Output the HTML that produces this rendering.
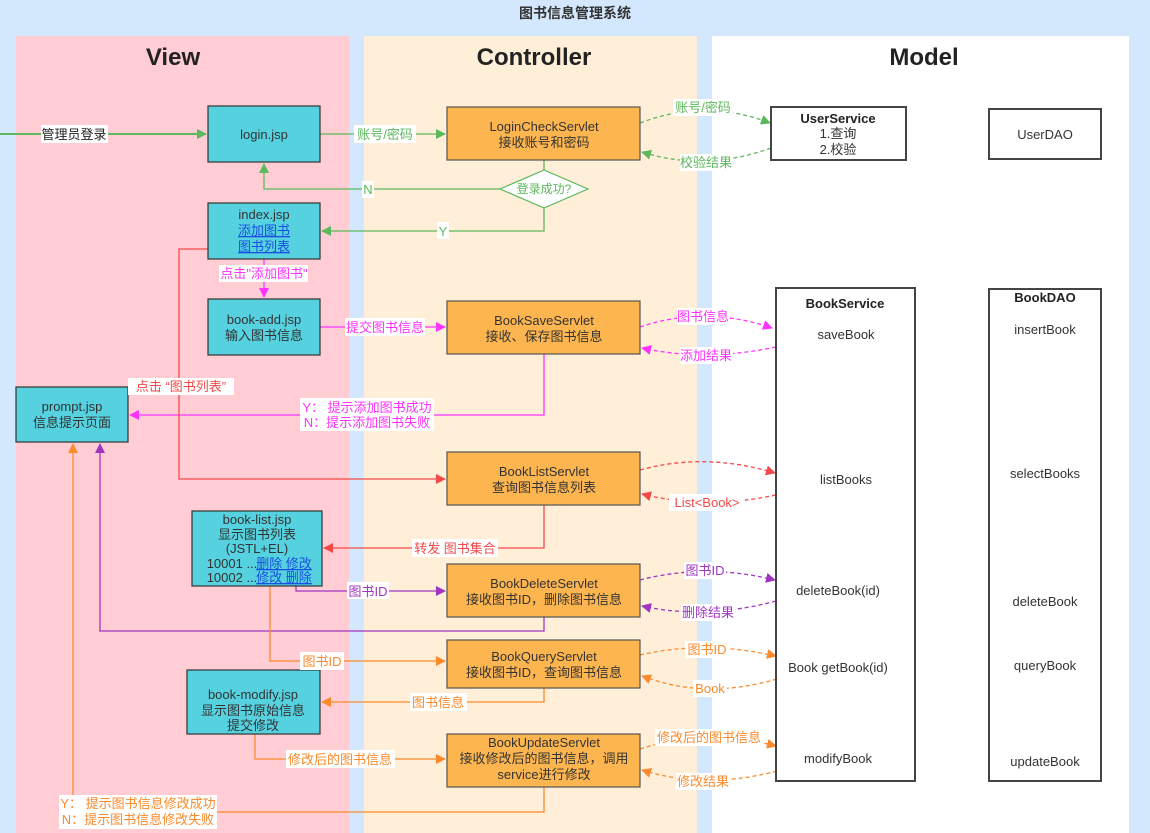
<!DOCTYPE html>
<html><head><meta charset="utf-8"><style>
html,body{margin:0;padding:0;background:#d3e8fc;}
svg{display:block;}
text{font-family:"Liberation Sans","Noto Sans CJK SC",sans-serif;font-size:13px;}
</style></head><body>
<svg width="1150" height="833" viewBox="0 0 1150 833" xmlns="http://www.w3.org/2000/svg">
<defs>
<marker id="g" markerWidth="10" markerHeight="10" refX="9" refY="5" orient="auto" markerUnits="userSpaceOnUse"><path d="M0,0 L10,5 L0,10 z" fill="#5cb85c"/></marker>
<marker id="m" markerWidth="10" markerHeight="10" refX="9" refY="5" orient="auto" markerUnits="userSpaceOnUse"><path d="M0,0 L10,5 L0,10 z" fill="#ff33ff"/></marker>
<marker id="r" markerWidth="10" markerHeight="10" refX="9" refY="5" orient="auto" markerUnits="userSpaceOnUse"><path d="M0,0 L10,5 L0,10 z" fill="#f24a4a"/></marker>
<marker id="p" markerWidth="10" markerHeight="10" refX="9" refY="5" orient="auto" markerUnits="userSpaceOnUse"><path d="M0,0 L10,5 L0,10 z" fill="#a035c0"/></marker>
<marker id="o" markerWidth="10" markerHeight="10" refX="9" refY="5" orient="auto" markerUnits="userSpaceOnUse"><path d="M0,0 L10,5 L0,10 z" fill="#fb8a2c"/></marker>
</defs>
<rect width="1150" height="833" fill="#d3e8fc"/>
<text x="575" y="18" text-anchor="middle" font-weight="bold" style="font-size:14px" fill="#333">图书信息管理系统</text>
<rect x="16" y="36" width="333" height="797" fill="#ffcdd3"/>
<rect x="364" y="36" width="333" height="797" fill="#ffeed8"/>
<rect x="712" y="36" width="417" height="797" fill="#ffffff"/>
<text x="173" y="65" text-anchor="middle" font-weight="bold" style="font-size:24px" fill="#222">View</text>
<text x="534" y="65" text-anchor="middle" font-weight="bold" style="font-size:24px" fill="#222">Controller</text>
<text x="924" y="65" text-anchor="middle" font-weight="bold" style="font-size:24px" fill="#222">Model</text>

<!-- connectors -->
<g fill="none" stroke-width="1.3">
<!-- green -->
<path d="M0,134 H206" stroke="#5cb85c" stroke-width="2" marker-end="url(#g)"/>
<path d="M320,134 H445" stroke="#5cb85c" marker-end="url(#g)"/>
<path d="M544,160 V170" stroke="#5cb85c"/>
<path d="M500,189 H264 V164" stroke="#5cb85c" marker-end="url(#g)"/>
<path d="M544,208 V231 H322" stroke="#5cb85c" marker-end="url(#g)"/>
<path d="M640,123 Q705,98 770,123" stroke="#5cb85c" stroke-dasharray="4,3" marker-end="url(#g)"/>
<path d="M771,148 Q705,172 642,152" stroke="#5cb85c" stroke-dasharray="4,3" marker-end="url(#g)"/>
<!-- magenta -->
<path d="M264,259 V297" stroke="#ff33ff" marker-end="url(#m)"/>
<path d="M320,327 H445" stroke="#ff33ff" marker-end="url(#m)"/>
<path d="M544,354 V415 H130" stroke="#ff33ff" marker-end="url(#m)"/>
<path d="M640,327 Q705,305 772,328" stroke="#ff33ff" stroke-dasharray="4,3" marker-end="url(#m)"/>
<path d="M776,347 Q705,362 642,348" stroke="#ff33ff" stroke-dasharray="4,3" marker-end="url(#m)"/>
<!-- red -->
<path d="M208,249 H179 V479 H445" stroke="#f24a4a" marker-end="url(#r)"/>
<path d="M544,505 V548 H324" stroke="#f24a4a" marker-end="url(#r)"/>
<path d="M640,470 Q705,452 775,473" stroke="#f24a4a" stroke-dasharray="4,3" marker-end="url(#r)"/>
<path d="M776,495 Q705,510 642,494" stroke="#f24a4a" stroke-dasharray="4,3" marker-end="url(#r)"/>
<!-- purple -->
<path d="M296,586 V591 H445" stroke="#a035c0" marker-end="url(#p)"/>
<path d="M544,617 V631 H100 V444" stroke="#a035c0" marker-end="url(#p)"/>
<path d="M640,580 Q705,563 775,580" stroke="#a035c0" stroke-dasharray="4,3" marker-end="url(#p)"/>
<path d="M776,601 Q705,620 642,606" stroke="#a035c0" stroke-dasharray="4,3" marker-end="url(#p)"/>
<!-- orange -->
<path d="M270,586 V661 H445" stroke="#fb8a2c" marker-end="url(#o)"/>
<path d="M544,688 V702 H322" stroke="#fb8a2c" marker-end="url(#o)"/>
<path d="M255,734 V759 H445" stroke="#fb8a2c" marker-end="url(#o)"/>
<path d="M544,787 V812 H73 V444" stroke="#fb8a2c" marker-end="url(#o)"/>
<path d="M640,655 Q705,640 776,656" stroke="#fb8a2c" stroke-dasharray="4,3" marker-end="url(#o)"/>
<path d="M777,679 Q705,700 642,676" stroke="#fb8a2c" stroke-dasharray="4,3" marker-end="url(#o)"/>
<path d="M640,749 Q705,728 776,746" stroke="#fb8a2c" stroke-dasharray="4,3" marker-end="url(#o)"/>
<path d="M777,771 Q705,790 642,770" stroke="#fb8a2c" stroke-dasharray="4,3" marker-end="url(#o)"/>
</g>

<!-- nodes View -->
<g stroke="#333" stroke-width="1.2" fill="#55d1df">
<rect x="208" y="106" width="112" height="56"/>
<rect x="208" y="203" width="112" height="56"/>
<rect x="208" y="299" width="112" height="56"/>
<rect x="16" y="387" width="112" height="55"/>
<rect x="192" y="511" width="130" height="75"/>
<rect x="187" y="670" width="133" height="64"/>
</g>
<!-- servlets -->
<g stroke="#555" stroke-width="1.2" fill="#fdb54f">
<rect x="447" y="107" width="193" height="53"/>
<rect x="447" y="301" width="193" height="53"/>
<rect x="447" y="452" width="193" height="53"/>
<rect x="447" y="564" width="193" height="53"/>
<rect x="447" y="640" width="193" height="48"/>
<rect x="447" y="734" width="193" height="53"/>
</g>
<polygon points="500,189 544,170 588,189 544,208" fill="#fff" stroke="#5cb85c" stroke-width="1.2"/>
<g stroke="#444" stroke-width="2" fill="#fff">
<rect x="771" y="107" width="135" height="53"/>
<rect x="989" y="109" width="112" height="50"/>
<rect x="776" y="288" width="139" height="493"/>
<rect x="989" y="289" width="112" height="492"/>
</g>

<!-- node texts -->
<g fill="#333" text-anchor="middle">
<text x="264" y="139">login.jsp</text>
<text x="264" y="219">index.jsp</text>
<text x="264" y="235" fill="#1a4fe0" text-decoration="underline">添加图书</text>
<text x="264" y="251" fill="#1a4fe0" text-decoration="underline">图书列表</text>
<text x="264" y="324">book-add.jsp</text>
<text x="264" y="340">输入图书信息</text>
<text x="72" y="411">prompt.jsp</text>
<text x="72" y="427">信息提示页面</text>
<text x="257" y="524">book-list.jsp</text>
<text x="257" y="539">显示图书列表</text>
<text x="257" y="553">(JSTL+EL)</text>
<text x="232" y="568">10001 ...</text>
<text x="232" y="582">10002 ...</text>
<text x="284" y="568" fill="#1a4fe0" text-decoration="underline">删除 修改</text>
<text x="284" y="582" fill="#1a4fe0" text-decoration="underline">修改 删除</text>
<text x="253" y="699">book-modify.jsp</text>
<text x="253" y="715">显示图书原始信息</text>
<text x="253" y="730">提交修改</text>
<text x="544" y="131">LoginCheckServlet</text>
<text x="544" y="147">接收账号和密码</text>
<text x="544" y="193" fill="#5cb85c" style="font-size:12px">登录成功?</text>
<text x="544" y="325">BookSaveServlet</text>
<text x="544" y="341">接收、保存图书信息</text>
<text x="544" y="476">BookListServlet</text>
<text x="544" y="492">查询图书信息列表</text>
<text x="544" y="588">BookDeleteServlet</text>
<text x="544" y="604">接收图书ID，删除图书信息</text>
<text x="544" y="661">BookQueryServlet</text>
<text x="544" y="677">接收图书ID，查询图书信息</text>
<text x="544" y="747">BookUpdateServlet</text>
<text x="544" y="763">接收修改后的图书信息，调用</text>
<text x="544" y="779">service进行修改</text>
<text x="838" y="123" font-weight="bold" fill="#222">UserService</text>
<text x="838" y="138">1.查询</text>
<text x="838" y="154">2.校验</text>
<text x="1045" y="139">UserDAO</text>
<text x="845" y="308" font-weight="bold" fill="#222">BookService</text>
<text x="1045" y="302" font-weight="bold" fill="#222">BookDAO</text>
<text x="846" y="339">saveBook</text>
<text x="846" y="484">listBooks</text>
<text x="838" y="595">deleteBook(id)</text>
<text x="838" y="672">Book getBook(id)</text>
<text x="838" y="763">modifyBook</text>
<text x="1045" y="334">insertBook</text>
<text x="1045" y="478">selectBooks</text>
<text x="1045" y="606">deleteBook</text>
<text x="1045" y="670">queryBook</text>
<text x="1045" y="766">updateBook</text>
</g>

<!-- edge labels -->
<g fill="#fff">
<rect x="41" y="125" width="67" height="18"/>
<rect x="354" y="125" width="62" height="18"/>
<rect x="362" y="181" width="12" height="17"/>
<rect x="437" y="222" width="12" height="17"/>
<rect x="673" y="99" width="60" height="17"/>
<rect x="680" y="154" width="53" height="17"/>
<rect x="219" y="265" width="89" height="17"/>
<rect x="345" y="318" width="80" height="18"/>
<rect x="677" y="308" width="53" height="17"/>
<rect x="680" y="347" width="53" height="17"/>
<rect x="128" y="378" width="106" height="17"/>
<rect x="300" y="398" width="134" height="33"/>
<rect x="669" y="494" width="76" height="17"/>
<rect x="412" y="539" width="86" height="18"/>
<rect x="347" y="582" width="42" height="17"/>
<rect x="684" y="562" width="42" height="17"/>
<rect x="681" y="604" width="54" height="17"/>
<rect x="300" y="652" width="44" height="18"/>
<rect x="685" y="641" width="44" height="17"/>
<rect x="693" y="680" width="34" height="17"/>
<rect x="410" y="693" width="57" height="18"/>
<rect x="286" y="750" width="109" height="18"/>
<rect x="655" y="729" width="107" height="17"/>
<rect x="676" y="773" width="54" height="17"/>
<rect x="59" y="795" width="158" height="34"/>
</g>
<g text-anchor="middle">
<text x="74" y="139" fill="#222">管理员登录</text>
<text x="385" y="139" fill="#5cb85c">账号/密码</text>
<text x="368" y="194" fill="#5cb85c">N</text>
<text x="443" y="236" fill="#5cb85c">Y</text>
<text x="703" y="112" fill="#5cb85c">账号/密码</text>
<text x="706" y="167" fill="#5cb85c">校验结果</text>
<text x="264" y="278" fill="#ff33ff">点击"添加图书"</text>
<text x="385" y="332" fill="#ff33ff">提交图书信息</text>
<text x="703" y="321" fill="#ff33ff">图书信息</text>
<text x="706" y="360" fill="#ff33ff">添加结果</text>
<text x="181" y="391" fill="#f24a4a">点击 “图书列表”</text>
<text x="367" y="412" fill="#ff33ff">Y： 提示添加图书成功</text>
<text x="367" y="427" fill="#ff33ff">N：提示添加图书失败</text>
<text x="707" y="507" fill="#f24a4a">List&lt;Book&gt;</text>
<text x="455" y="553" fill="#f24a4a">转发 图书集合</text>
<text x="368" y="596" fill="#a035c0">图书ID</text>
<text x="705" y="575" fill="#a035c0">图书ID</text>
<text x="708" y="617" fill="#a035c0">删除结果</text>
<text x="322" y="666" fill="#fb8a2c">图书ID</text>
<text x="707" y="654" fill="#fb8a2c">图书ID</text>
<text x="710" y="693" fill="#fb8a2c">Book</text>
<text x="438" y="707" fill="#fb8a2c">图书信息</text>
<text x="340" y="764" fill="#fb8a2c">修改后的图书信息</text>
<text x="709" y="742" fill="#fb8a2c">修改后的图书信息</text>
<text x="703" y="786" fill="#fb8a2c">修改结果</text>
<text x="138" y="808" fill="#fb8a2c">Y： 提示图书信息修改成功</text>
<text x="138" y="824" fill="#fb8a2c">N：提示图书信息修改失败</text>
</g>
</svg>
</body></html>
